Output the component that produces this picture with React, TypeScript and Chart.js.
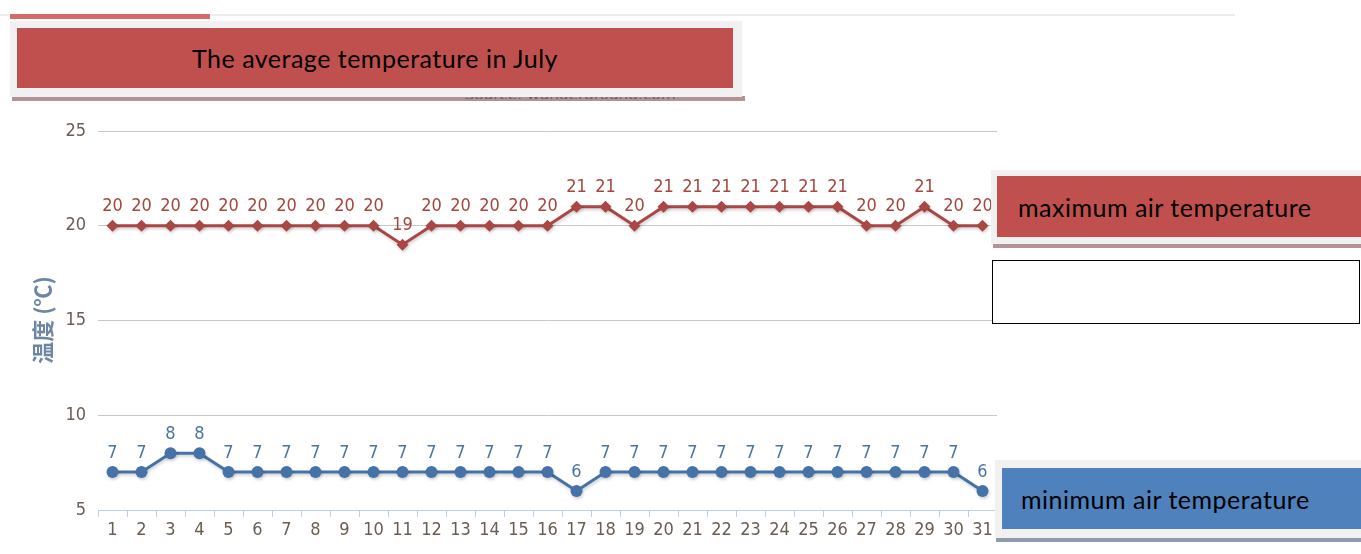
import React, { useEffect, useRef } from "react";
import { Chart, registerables } from "chart.js";

Chart.register(...registerables);

const days: string[] = [
  "1","2","3","4","5","6","7","8","9","10","11","12","13","14","15","16",
  "17","18","19","20","21","22","23","24","25","26","27","28","29","30","31",
];
const maxTemps: number[] = [
  20,20,20,20,20,20,20,20,20,20,19,20,20,20,20,20,
  21,21,20,21,21,21,21,21,21,21,20,20,21,20,20,
];
const minTemps: number[] = [
  7,7,8,8,7,7,7,7,7,7,7,7,7,7,7,7,
  6,7,7,7,7,7,7,7,7,7,7,7,7,7,6,
];
const yTicks: number[] = [5, 10, 15, 20, 25];

const RED = "#aa4643";
const BLUE = "#4572a7";
const TICK_FONT = "'DejaVu Sans Condensed', 'DejaVu Sans', sans-serif";
const TICK_COLOR = "#6a5e52";

const labelPlugin = {
  id: "valueLabels",
  beforeDatasetDraw(chart: any) {
    const ctx = chart.ctx;
    ctx.save();
    ctx.shadowColor = "rgba(0,0,0,0.18)";
    ctx.shadowOffsetX = 1;
    ctx.shadowOffsetY = 2;
    ctx.shadowBlur = 3;
  },
  afterDatasetDraw(chart: any) {
    chart.ctx.restore();
  },
  afterDatasetsDraw(chart: any) {
    const ctx = chart.ctx;
    ctx.save();
    ctx.font = `18px ${TICK_FONT}`;
    ctx.textAlign = "center";
    ctx.textBaseline = "middle";
    chart.data.datasets.forEach((ds: any, i: number) => {
      const meta = chart.getDatasetMeta(i);
      ctx.fillStyle = ds.labelColor;
      meta.data.forEach((pt: any, j: number) => {
        ctx.fillText(String(ds.data[j]), pt.x, pt.y - 19);
      });
    });
    // y axis title
    ctx.translate(43, 320);
    ctx.rotate(-Math.PI / 2);
    ctx.font = "bold 22px 'Noto Sans CJK SC', sans-serif";
    ctx.fillStyle = "#6d87a3";
    ctx.fillText("温度 (℃)", 0, 0);
    ctx.restore();
  },
};

export default function App() {
  const ref = useRef<HTMLCanvasElement>(null);
  useEffect(() => {
    if (!ref.current) return;
    const chart = new Chart(ref.current, {
      type: "line",
      data: {
        labels: days,
        datasets: [
          {
            label: "maximum air temperature",
            data: maxTemps,
            borderColor: RED,
            backgroundColor: RED,
            borderWidth: 3,
            pointStyle: "rectRot",
            pointRadius: 6,
            pointBorderWidth: 0,
            tension: 0,
            labelColor: "#a5473f",
          } as any,
          {
            label: "minimum air temperature",
            data: minTemps,
            borderColor: BLUE,
            backgroundColor: BLUE,
            borderWidth: 3,
            pointStyle: "circle",
            pointRadius: 6,
            pointBorderWidth: 0,
            tension: 0,
            labelColor: "#4a74a8",
          } as any,
        ],
      },
      options: {
        animation: false,
        responsive: false,
        maintainAspectRatio: false,
        layout: { padding: { top: 131, right: 364, left: 0, bottom: 0 } },
        plugins: { legend: { display: false }, tooltip: { enabled: false }, title: { display: false } },
        scales: {
          x: {
            offset: true,
            grid: {
              offset: true,
              drawOnChartArea: false,
              drawTicks: true,
              tickLength: 7,
              color: "#c0d0e0",
            },
            border: { display: true, color: "#c0d0e0", width: 1 },
            ticks: {
              color: TICK_COLOR,
              font: { family: TICK_FONT, size: 18 },
              padding: 3,
              maxRotation: 0,
              autoSkip: false,
            },
            afterFit(scale: any) {
              scale.height = 44;
            },
          },
          y: {
            min: 5,
            max: 25,
            afterBuildTicks(scale: any) {
              scale.ticks = yTicks.map((v) => ({ value: v }));
            },
            grid: {
              drawTicks: false,
              color: (c: any) => (c.tick && c.tick.value === 5 ? "rgba(0,0,0,0)" : "#c8c8c8"),
              lineWidth: 1,
            },
            border: { display: false },
            ticks: {
              color: TICK_COLOR,
              font: { family: TICK_FONT, size: 18 },
              padding: 12,
            },
            afterFit(scale: any) {
              scale.width = 98;
            },
          },
        },
      },
      plugins: [labelPlugin],
    });
    return () => chart.destroy();
  }, []);

  const font = "Lato, 'Open Sans', sans-serif";
  const boxText = { fontFamily: font, fontSize: 25, letterSpacing: 0.5, color: "#000" };
  return (
    <div style={{ position: "absolute", left: 0, top: 0, width: 1361, height: 554, background: "#fff", overflow: "hidden" }}>
      <canvas ref={ref} width={1361} height={554} style={{ position: "absolute", left: 0, top: 0 }} />
      {/* top line */}
      <div style={{ position: "absolute", left: 0, top: 14, width: 1235, height: 2, background: "#ececec" }} />
      <div style={{ position: "absolute", left: 10, top: 14, width: 200, height: 5, background: "#d66c68" }} />
      {/* title box */}
      <div style={{ position: "absolute", left: 12, top: 96, width: 733, height: 5, background: "#b39293" }} />
      {/* subtitle, mostly hidden behind the title box */}
      <div style={{ position: "absolute", left: 450, top: 96, width: 240, height: 3, overflow: "hidden" }}>
        <div style={{ position: "absolute", left: 0, top: -12, width: 240, textAlign: "center", color: "#6a6470", fontFamily: TICK_FONT, fontSize: 17, whiteSpace: "nowrap" }}>
          Source: wunderground.com
        </div>
      </div>
      <div style={{ position: "absolute", left: 10, top: 21, width: 732, height: 76, background: "#f1f1f1" }} />
      <div style={{ position: "absolute", left: 17, top: 28, width: 716, height: 60, background: "#c0504d", display: "flex", alignItems: "center", justifyContent: "center", ...boxText }}>
        The average temperature in July
      </div>
      {/* max legend */}
      <div style={{ position: "absolute", left: 993, top: 243, width: 368, height: 5, background: "#b39293" }} />
      <div style={{ position: "absolute", left: 991, top: 170, width: 370, height: 74, background: "#f1f1f1" }} />
      <div style={{ position: "absolute", left: 997, top: 176, width: 364, height: 61, background: "#c0504d", display: "flex", alignItems: "center", paddingLeft: 21, boxSizing: "border-box", ...boxText }}>
        maximum air temperature
      </div>
      {/* empty box */}
      <div style={{ position: "absolute", left: 992, top: 260, width: 368, height: 64, border: "1px solid #000", boxSizing: "border-box", background: "#fff" }} />
      {/* min legend */}
      <div style={{ position: "absolute", left: 996, top: 537, width: 365, height: 5, background: "#8e9bab" }} />
      <div style={{ position: "absolute", left: 995, top: 460, width: 366, height: 78, background: "#f1f1f1" }} />
      <div style={{ position: "absolute", left: 1002, top: 468, width: 359, height: 61, background: "#4f81bd", display: "flex", alignItems: "center", paddingLeft: 19, boxSizing: "border-box", ...boxText }}>
        minimum air temperature
      </div>
    </div>
  );
}
